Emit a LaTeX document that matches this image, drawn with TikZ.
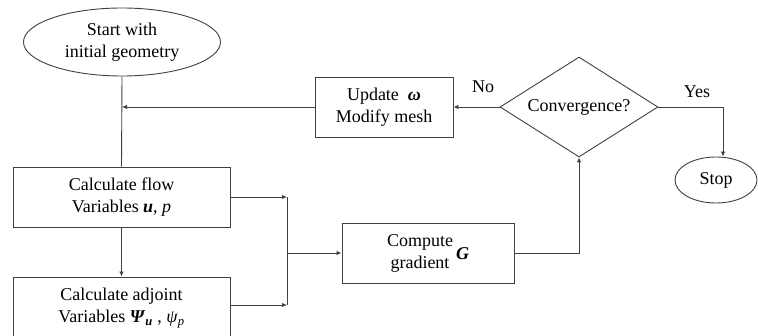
\documentclass[tikz,border=0pt]{standalone}
\usepackage{fontspec}
\setmainfont{Liberation Serif}
\usetikzlibrary{shapes.geometric,arrows.meta}
\begin{document}
\begin{tikzpicture}[x=1pt,y=-1pt,
  every node/.style={font=\fontsize{18}{22}\selectfont, inner sep=0pt, align=center},
  ln/.style={draw=black!75, line width=0.9pt},
  arr/.style={ln, -{Latex[length=5pt,width=4.5pt]}},
  boxnode/.style={draw=black!75, line width=0.9pt, rectangle, minimum height=60pt},
  ovalnode/.style={draw=black!75, line width=0.9pt, ellipse},
  decnode/.style={draw=black!75, line width=0.9pt, diamond, aspect=1.58, minimum width=158pt, minimum height=100pt}]
\useasboundingbox (0,0) rectangle (758,336);
\node[ovalnode, minimum width=197pt, minimum height=68pt] (start) at (122,42) {Start with\\initial geometry};
\node[boxnode, minimum width=138pt] (update) at (384,107) {Update\enspace\textbf{\textit{ω}}\\Modify mesh};
\node[decnode] (conv) at (579,107) {Convergence?};
\node[ovalnode, minimum width=82pt, minimum height=46pt] (stop) at (716,180) {Stop};
\node[boxnode, minimum width=217pt] (flow) at (121.5,197) {Calculate flow\\Variables \textbf{\textit{u}}, \textit{p}};
\node[boxnode, minimum width=217pt, minimum height=62pt] (adj) at (121.5,308) {Calculate adjoint\\Variables \textbf{\textit{Ψ}}\textsubscript{\textbf{\textit{u}}} , \textit{ψ}\textsubscript{\textit{p}}};
\node[boxnode, minimum width=172pt] (comp) at (428,253) {\begin{tabular}{@{}c@{}}Compute\\gradient\end{tabular}\,\raisebox{-2pt}{\textbf{\textit{G}}}};
\node (nolab) at (483,87) {No};
\node (yeslab) at (697,92) {Yes};
\coordinate (jstart) at (122,107);
\coordinate (j1) at (287,197);
\coordinate (j2) at (287,305);
\coordinate (jm) at (287,253);
\coordinate (jy) at (723,107);
\coordinate (jc) at (579,253);
\draw[ln] (start.south) -- (flow.north);
\draw[arr] (update.west) -- (jstart);
\draw[arr] (flow.south) -- (adj.north);
\draw[arr] (conv.west) -- (update.east);
\draw[arr] (conv.east) -- (jy) -- (stop.north -| jy);
\draw[arr] (flow.east) -- (j1);
\draw[arr] (adj.east |- j2) -- (j2);
\draw[ln] (j1) -- (j2);
\draw[arr] (jm) -- (comp.west);
\draw[arr] (comp.east) -- (jc) -- (conv.south);
\end{tikzpicture}
\end{document}
